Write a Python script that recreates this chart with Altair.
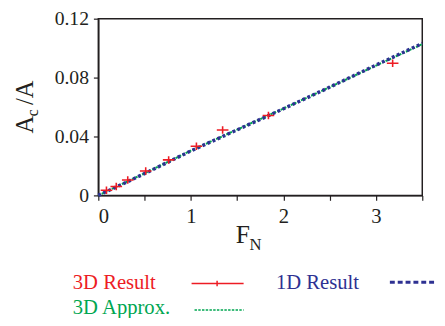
import altair as alt
import pandas as pd

# 3D Result (simulation points)
fn_3d = [0.088, 0.194, 0.318, 0.512, 0.760, 1.06, 1.343, 1.838, 3.18]
ac_3d = [0.0035, 0.0061, 0.0105, 0.0166, 0.0241, 0.0334, 0.0444, 0.0542, 0.0898]

# 1D Result and 3D Approx. curves
fn_line = [0, 0.5, 1.0, 1.5, 2.0, 2.5, 3.0, 3.5]
ac_1d = [0, 0.0148, 0.0302, 0.0445, 0.0588, 0.0735, 0.0885, 0.1032]
ac_approx = [0, 0.0150, 0.0304, 0.0447, 0.0590, 0.0735, 0.0882, 0.1027]

x_ticks = [0, 0.5, 1, 1.5, 2, 2.5, 3, 3.5]
y_ticks = [0, 0.02, 0.04, 0.06, 0.08, 0.10, 0.12]

RED = "#ed1c24"
BLUE = "#2e3192"
GREEN = "#00a651"
INK = "#231f20"
FONT = "Liberation Serif"

W, H = 330, 180

df_pts = pd.DataFrame({"fn": fn_3d, "ac": ac_3d})
df_1d = pd.DataFrame({"fn": fn_line, "ac": ac_1d})
df_ap = pd.DataFrame({"fn": fn_line, "ac": ac_approx})
one = pd.DataFrame({"a": [0]})

xs = alt.Scale(domain=[0, 3.5], nice=False, zero=True)
ys = alt.Scale(domain=[0, 0.12], nice=False, zero=True)

x_axis = alt.Axis(
    title="", values=x_ticks, grid=False,
    labelExpr="datum.value % 1 == 0 ? format(datum.value, 'd') : ''",
    labelPadding=6, labelFont=FONT, labelFontSize=21, labelColor=INK,
)
y_axis = alt.Axis(
    title="", values=y_ticks, grid=False,
    labelExpr="datum.value == 0 ? '0' : (round(datum.value*100) % 4 == 0 ? format(datum.value, '.2f') : '')",
    labelPadding=5, labelFont=FONT, labelFontSize=20, labelColor=INK,
)

approx = alt.Chart(df_ap).mark_line(
    color=GREEN, strokeWidth=2, strokeDash=[2.5, 1.3]
).encode(
    x=alt.X("fn:Q", scale=xs, axis=x_axis),
    y=alt.Y("ac:Q", scale=ys, axis=y_axis),
)

oned = alt.Chart(df_1d).mark_line(
    color=BLUE, strokeWidth=3.5, strokeDash=[3, 2.6]
).encode(x=alt.X("fn:Q", scale=xs), y=alt.Y("ac:Q", scale=ys))

pts = alt.Chart(df_pts).mark_point(
    shape="M-1,0L1,0M0,-0.65L0,0.65", color=RED, strokeWidth=1.6, size=140,
    filled=False, opacity=1
).encode(x=alt.X("fn:Q", scale=xs), y=alt.Y("ac:Q", scale=ys))


def txt(s, x, y, size, color=INK, angle=0):
    return alt.Chart(one).mark_text(
        text=s, font=FONT, fontSize=size, color=color, align="left",
        baseline="alphabetic", angle=angle
    ).encode(x=alt.value(x), y=alt.value(y))


def rule(x1, x2, y1, y2, color, width, dash=None):
    kw = dict(color=color, strokeWidth=width)
    if dash:
        kw["strokeDash"] = dash
    return alt.Chart(one).mark_rule(**kw).encode(
        x=alt.value(x1), x2=alt.value(x2), y=alt.value(y1), y2=alt.value(y2)
    )


layers = [
    approx, oned, pts,
    # axis titles
    txt("F", 140, 229, 26),
    txt("N", 154, 236, 17),
    txt("A", -67, 117, 25, angle=270),
    txt("c", -61.5, 99.5, 16, angle=270),
    txt("/A", -67, 88, 25, angle=270),
    # legend
    txt("3D Result", -26, 275, 21, RED),
    rule(95, 148, 269.7, 269.7, RED, 1.5),
    rule(121, 121, 267, 272.5, RED, 1.5),
    txt("1D Result", 181, 275, 21, BLUE),
    rule(297, 345, 268.5, 268.5, BLUE, 3, [5, 3]),
    txt("3D Approx.", -26, 301, 21, GREEN),
    rule(98, 148, 296.7, 296.7, GREEN, 1.5, [2.5, 1.3]),
]

chart = alt.layer(*layers).properties(
    width=W, height=H,
    autosize=alt.AutoSizeParams(type="none"),
    padding={"left": 92, "top": 8, "right": 15, "bottom": 122},
).configure_view(
    stroke=INK, strokeWidth=1.5
).configure_axis(
    domainColor=INK, domainWidth=1.5, tickColor=INK, tickWidth=1.2, tickSize=5,
    labelFont=FONT, labelColor=INK,
)

chart.save("out.html", embed_options={"renderer": "svg", "actions": False})
